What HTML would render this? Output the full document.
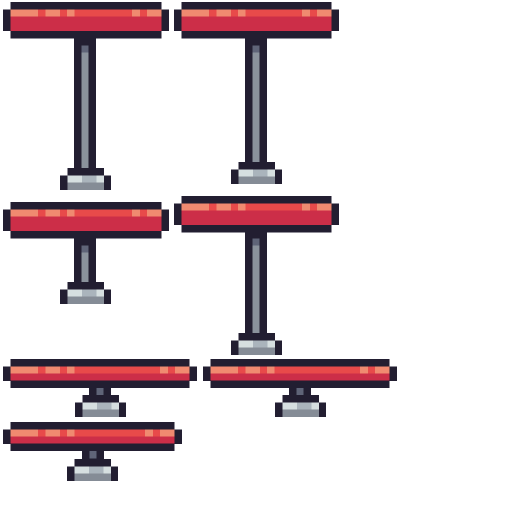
<!DOCTYPE html>
<html><head><style>html,body{margin:0;padding:0;background:#fff;width:512px;height:512px;overflow:hidden}svg{display:block}</style></head>
<body>
<svg id="s" width="512" height="512" viewBox="0 0 512 512" shape-rendering="crispEdges" xmlns="http://www.w3.org/2000/svg"></svg>
<script>
var u=7.3,out='';
var D='#221e31',L='#f08a70',R='#e84a4a',RD='#cc2e48',G='#858c96',GI='#8a929c',GT='#5f6478',BL='#aab4bc',BW='#d6dfe0';
function r(x,y,w,h,c){out+='<rect x="'+x.toFixed(2)+'" y="'+y.toFixed(2)+'" width="'+w.toFixed(2)+'" height="'+h.toFixed(2)+'" fill="'+c+'"/>';}
function bar(x1,x2,y,thick){
 var W=x2-x1-2*u,h=thick?3*u:2*u,xi=x1+u;
 r(xi,y,W,u+0.3,D);
 r(x1,y+u,u,h,D);r(x2-u,y+u,u,h,D);
 r(xi,y+u,W,u,L);
 r(xi+3.8*u,y+u,u,u,R);r(xi+6.8*u,y+u,u,u,R);
 r(xi+8.8*u,y+u,W-8.8*u-4.1*u,u,R);
 r(xi+W-3*u,y+u,u,u,R);
 r(xi,y+2*u,W,h-u,RD);
 r(xi,y+u+h-0.3,W,u+0.3,D);
}
function pole(x,y1,y2,short){
 r(x,y1,3*u,y2-y1+0.5,D);
 if(short){r(x+u,y1,u,u,GT);}
 else{r(x+u,y1+u,u,y2-y1-u,GI);r(x+u,y1+u,u,u,GT);}
}
function base(x,y){
 r(x+u,y,5*u,u+0.3,D);
 r(x,y+u,u,2*u,D);r(x+6*u,y+u,u,2*u,D);
 r(x+u,y+u,5*u,u,BL);r(x+u,y+u,2*u,u,BW);r(x+5*u,y+u,u,u,BW);
 r(x+u,y+2*u,5*u,u,G);
}
bar(3,169,2,1);pole(74,38,168);base(60,168);
bar(174,339,2,1);pole(245,38,162);base(231,162);
bar(3,169,202,1);pole(74,238,282);base(60,282);
bar(174,339,196,1);pole(245,231,333);base(231,333);
bar(3,197,359,0);pole(89,388,395,1);base(75,395);
bar(203,397,359,0);pole(289,388,395,1);base(275,395);
bar(3,182,422,0);pole(82,451,459,1);base(67,459);
document.getElementById('s').innerHTML=out;
</script>
</body></html>
